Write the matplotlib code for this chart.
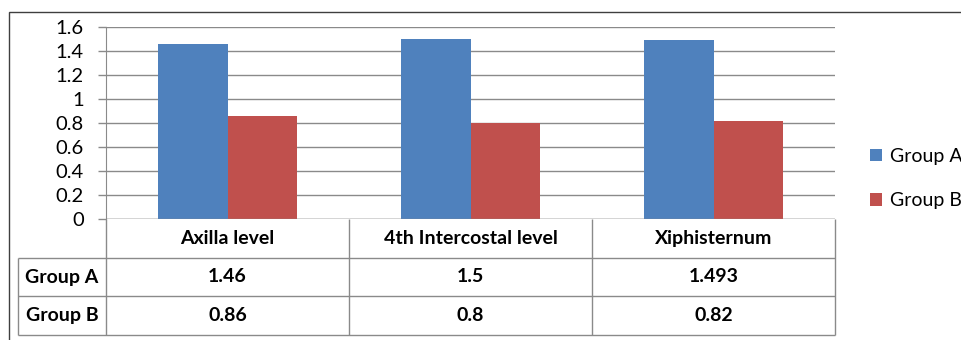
import matplotlib
matplotlib.use("Agg")
import matplotlib.pyplot as plt
from matplotlib.patches import Rectangle
import numpy as np

categories = ["Axilla level", "4th Intercostal level", "Xiphisternum"]
series_names = ["Group A", "Group B"]
group_a = [1.46, 1.5, 1.493]
group_b = [0.86, 0.8, 0.82]
group_a_labels = ["1.46", "1.5", "1.493"]
group_b_labels = ["0.86", "0.8", "0.82"]
yticks = [0, 0.2, 0.4, 0.6, 0.8, 1.0, 1.2, 1.4, 1.6]
ytick_labels = ["0", "0.2", "0.4", "0.6", "0.8", "1", "1.2", "1.4", "1.6"]

BLUE = "#4F81BD"
RED = "#C0504D"
GRID = "#8a8a8a"

plt.rcParams["font.family"] = ["Lato", "DejaVu Sans"]

W, H = 961, 340
fig = plt.figure(figsize=(W / 100, H / 100), dpi=100)


def fx(px):
    return px / W


def fy(py):
    return 1 - py / H


# outer chart frame
fig.add_artist(Rectangle((fx(8.5), -0.2), 1.5, fy(11.5) + 0.2,
                         transform=fig.transFigure, fill=False,
                         ec="#3f3f3f", lw=1.0, clip_on=False))

# plot area
left_px, right_px, top_px, base_px = 106, 835, 27, 219
ax = fig.add_axes([fx(left_px), fy(base_px),
                   fx(right_px) - fx(left_px), fy(top_px) - fy(base_px)])
x = np.arange(len(categories))
w = 0.288
ax.bar(x - w / 2, group_a, w, color=BLUE, zorder=3, label=series_names[0])
ax.bar(x + w / 2, group_b, w, color=RED, zorder=3, label=series_names[1])
ax.set_xlim(-0.5, len(categories) - 0.5)
ax.set_ylim(0, 1.6)
ax.set_yticks(yticks)
ax.set_yticklabels(ytick_labels, fontsize=14.5)
ax.set_xticks([])
ax.yaxis.grid(True, color=GRID, lw=1.0, zorder=0)
for s in ["top", "right", "bottom"]:
    ax.spines[s].set_visible(False)
ax.spines["left"].set_color(GRID)
ax.tick_params(axis="y", length=6, width=1.0, color=GRID, pad=10)
ax.axhline(0, color=GRID, lw=1.0, zorder=4)

# data table below the plot
cat_w = (right_px - left_px) / len(categories)
hdr_w = (left_px - 18) / cat_w
tab = fig.add_axes([fx(18), fy(335), fx(right_px) - fx(18), fy(base_px) - fy(335)])
tab.set_xlim(-0.5 - hdr_w, len(categories) - 0.5)
tab.set_ylim(3, 0)
tab.axis("off")
tab.hlines([1, 2, 3], -0.5 - hdr_w, len(categories) - 0.5, color=GRID, lw=1.0, clip_on=False)
tab.vlines([-0.5 - hdr_w], 1, 3, color=GRID, lw=1.0, clip_on=False)
tab.vlines(np.arange(len(categories) + 1) - 0.5, 0, 3, color=GRID, lw=1.0, clip_on=False)

fs = 14
for i, c in enumerate(categories):
    tab.text(i, 0.5, c, ha="center", va="center", fontsize=fs, fontweight="bold")
    tab.text(i, 1.5, group_a_labels[i], ha="center", va="center", fontsize=fs, fontweight="bold")
    tab.text(i, 2.5, group_b_labels[i], ha="center", va="center", fontsize=fs, fontweight="bold")
for r, name in enumerate(series_names):
    tab.text(-0.5 - hdr_w / 2, 1.5 + r, name, ha="center", va="center",
             fontsize=fs, fontweight="bold")

# legend
fig.legend(loc="upper left", bbox_to_anchor=(fx(870), fy(148)),
           frameon=False, fontsize=14, handlelength=0.62, handleheight=0.62,
           handletextpad=0.4, labelspacing=1.4, borderpad=0, borderaxespad=0)

fig.savefig("out.png", dpi=100)
